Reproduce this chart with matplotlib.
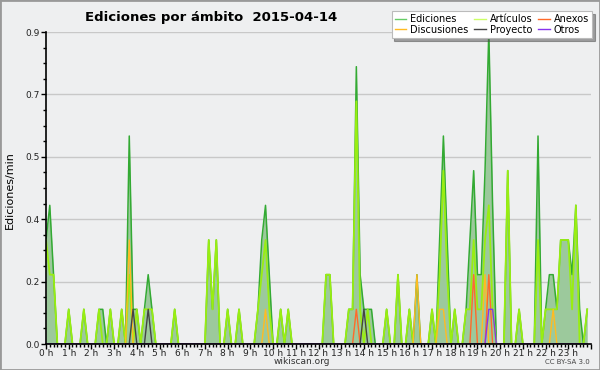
import numpy as np
import matplotlib
matplotlib.use("Agg")
import matplotlib.pyplot as plt
from matplotlib.lines import Line2D
from matplotlib.patches import Rectangle
from matplotlib.ticker import MultipleLocator, FixedLocator, FuncFormatter

# edits per minute, one value per 10-minute bin (6 bins per hour)
ediciones = [
    0.3, 0.4, 0.2, 0, 0, 0,      0.1, 0, 0, 0, 0.1, 0,          # 0h, 1h
    0, 0, 0.1, 0.1, 0, 0.1,      0, 0, 0.1, 0, 0.6, 0.1,        # 2h, 3h
    0.1, 0, 0.1, 0.2, 0.1, 0,    0, 0, 0, 0, 0.1, 0,            # 4h, 5h
    0, 0, 0, 0, 0, 0,            0, 0.3, 0.1, 0.3, 0, 0,        # 6h, 7h
    0.1, 0, 0, 0.1, 0, 0,        0, 0, 0.1, 0.3, 0.4, 0.2,      # 8h, 9h
    0, 0, 0.1, 0, 0.1, 0,        0, 0, 0, 0, 0, 0,              # 10h, 11h
    0, 0, 0.2, 0.2, 0, 0,        0, 0, 0.1, 0.1, 0.8, 0.2,      # 12h, 13h
    0.1, 0.1, 0.1, 0, 0, 0,      0.1, 0, 0, 0.2, 0, 0,          # 14h, 15h
    0.1, 0, 0.2, 0, 0, 0,        0.1, 0, 0.3, 0.6, 0.3, 0,      # 16h, 17h
    0.1, 0, 0, 0.1, 0.3, 0.5,    0.2, 0.2, 0.5, 0.9, 0.4, 0,    # 18h, 19h
    0, 0, 0.5, 0, 0, 0.1,        0, 0, 0, 0, 0.6, 0,            # 20h, 21h
    0.1, 0.2, 0.2, 0.1, 0.3, 0.3, 0.3, 0.2, 0.4, 0.1, 0, 0.1,   # 22h, 23h
]
articulos = [
    0.3, 0.2, 0.2, 0, 0, 0,      0.1, 0, 0, 0, 0.1, 0,
    0, 0, 0.1, 0, 0, 0.1,        0, 0, 0.1, 0, 0.2, 0,
    0.1, 0, 0.1, 0.1, 0.1, 0,    0, 0, 0, 0, 0.1, 0,
    0, 0, 0, 0, 0, 0,            0, 0.3, 0.1, 0.3, 0, 0,
    0.1, 0, 0, 0.1, 0, 0,        0, 0, 0.1, 0.2, 0.3, 0.1,
    0, 0, 0.1, 0, 0.1, 0,        0, 0, 0, 0, 0, 0,
    0, 0, 0.2, 0.2, 0, 0,        0, 0, 0.1, 0.1, 0.7, 0.1,
    0, 0.1, 0, 0, 0, 0,          0.1, 0, 0, 0.2, 0, 0,
    0.1, 0, 0, 0, 0, 0,          0.1, 0, 0.2, 0.5, 0.2, 0,
    0.1, 0, 0, 0.1, 0.1, 0.3,    0.1, 0.1, 0.3, 0.4, 0.1, 0,
    0, 0, 0.5, 0, 0, 0.1,        0, 0, 0, 0, 0.3, 0,
    0.1, 0.1, 0.1, 0.1, 0.3, 0.3, 0.3, 0.1, 0.4, 0, 0, 0.1,
]
# the small namespaces are mostly empty: bin index -> value
anexos = {82: 0.1, 113: 0.2, 117: 0.2}
discusiones = {22: 0.3, 58: 0.1, 98: 0.2, 104: 0.1, 105: 0.1, 116: 0.2, 134: 0.1}
proyecto = {23: 0.1, 27: 0.1, 84: 0.1}
otros = {117: 0.1, 118: 0.1}

hour_labels = [f"{h} h" for h in range(24)]
y_max = 0.9

BG = "#eeeff0"
C_TOTAL = "#33aa33"
C_FILL = "#9cc99c"
C_ART = "#99ee11"
C_ANEX = "#ff6a2a"
C_DISC = "#ffbb22"
C_PROY = "#444444"
C_OTROS = "#8833ee"


def full(sparse, n=144):
    arr = np.zeros(n)
    for k, v in sparse.items():
        arr[k] = v
    return arr


n_bins = len(ediciones)
x = np.arange(n_bins) * 10  # minutes since midnight

fig = plt.figure(figsize=(6, 3.7), dpi=100, facecolor=BG)
fig.patches.append(Rectangle((0, 0), 1, 1, transform=fig.transFigure,
                             fill=False, edgecolor="#999999", lw=2))
ax = fig.add_axes([46 / 600, 26 / 370, 545 / 600, 312 / 370], facecolor=BG)

ax.fill_between(x, 0, ediciones, color=C_FILL, lw=0, zorder=2)
ax.plot(x, ediciones, color=C_TOTAL, lw=1.1, zorder=3)
ax.plot(x, articulos, color=C_ART, lw=1.3, zorder=4)
for series, col in [(discusiones, C_DISC), (anexos, C_ANEX),
                    (proyecto, C_PROY), (otros, C_OTROS)]:
    ax.plot(x, full(series, n_bins), color=col, lw=1.0, zorder=5)

ax.set_xlim(0, 24 * 60)
ax.set_ylim(0, y_max)

ax.xaxis.set_major_locator(MultipleLocator(60))
ax.xaxis.set_minor_locator(MultipleLocator(10))
ax.xaxis.set_major_formatter(FuncFormatter(
    lambda v, p: hour_labels[int(v // 60)] if 0 <= v < 24 * 60 else ""))
y_ticks = np.linspace(0, y_max, 6)
ax.yaxis.set_major_locator(FixedLocator(y_ticks))
ax.yaxis.set_minor_locator(FixedLocator(np.linspace(0, y_max, 21)))
ax.yaxis.set_major_formatter(FuncFormatter(lambda v, p: f"{v:.1f}"))
ax.tick_params(which="major", length=3.5, width=1, labelsize=6.5,
               color="black", labelcolor="#222222")
ax.tick_params(axis="x", which="major", pad=0)
ax.tick_params(axis="y", which="major", pad=1)
ax.tick_params(which="minor", length=2.5, width=1, color="black")
ax.grid(axis="y", which="major", color="#c8c8c8", lw=1, zorder=1)
for side in ("top", "right"):
    ax.spines[side].set_visible(False)
for side in ("left", "bottom"):
    ax.spines[side].set_linewidth(1.2)
    ax.spines[side].set_zorder(6)

fig.text(85 / 600, 1 - 17 / 370, "Ediciones por ámbito  2015-04-14",
         fontsize=9.5, fontweight="bold", va="center", ha="left")
fig.text(10 / 600, 1 - 190 / 370, "Ediciones/min", rotation=90,
         fontsize=8, va="center", ha="center")
fig.text(302 / 600, 1 - 362 / 370, "wikiscan.org", fontsize=6.5,
         va="center", ha="center", color="#333333")
fig.text(590 / 600, 1 - 362 / 370, "CC BY-SA 3.0", fontsize=5,
         va="center", ha="right", color="#444444")

handles = [
    Line2D([], [], color="#66cc66", lw=1),
    Line2D([], [], color=C_DISC, lw=1),
    Line2D([], [], color="#ccff66", lw=1),
    Line2D([], [], color=C_PROY, lw=1),
    Line2D([], [], color=C_ANEX, lw=1),
    Line2D([], [], color=C_OTROS, lw=1),
]
labels = ["Ediciones", "Discusiones", "Artículos", "Proyecto", "Anexos", "Otros"]
leg = fig.legend(handles, labels, ncol=3, loc="upper right",
                 bbox_to_anchor=(592 / 600, 1 - 11 / 370), fontsize=7,
                 frameon=True, fancybox=False, shadow=True, handlelength=1.2,
                 handletextpad=0.4, columnspacing=0.6, labelspacing=0.1,
                 borderpad=0.3, borderaxespad=0)
leg.get_frame().set_edgecolor("#bbbbbb")
leg.get_frame().set_linewidth(0.8)

fig.savefig("out.png", dpi=100, facecolor=BG)
